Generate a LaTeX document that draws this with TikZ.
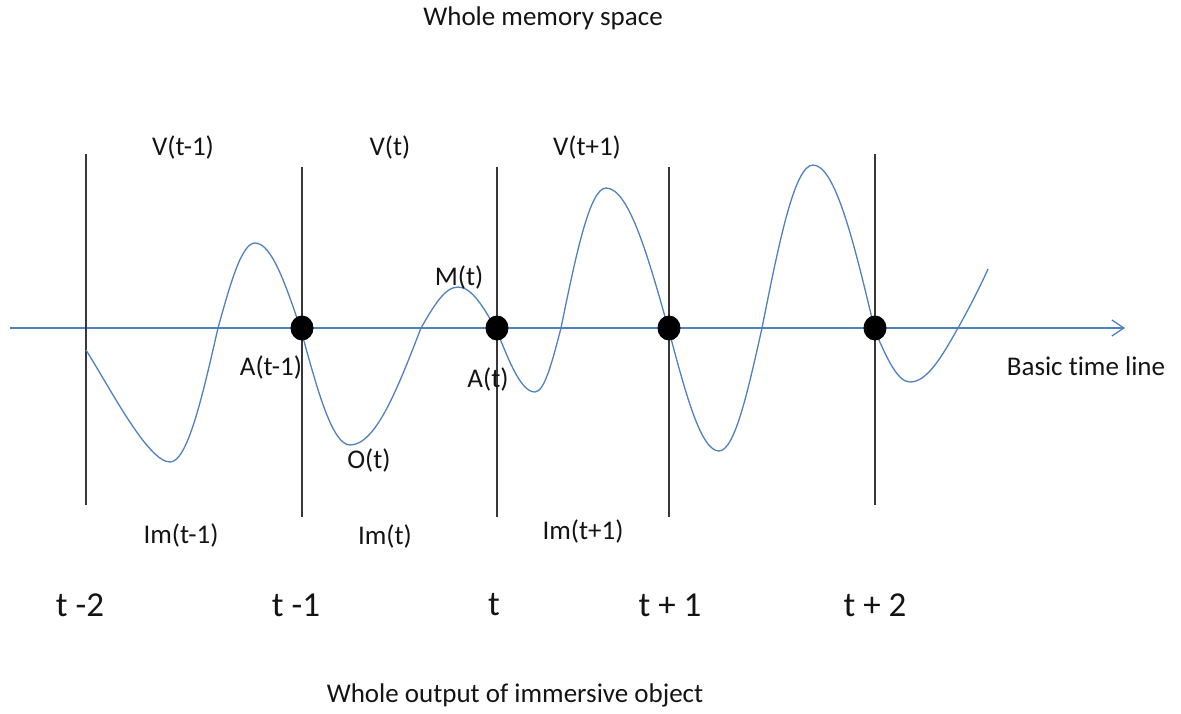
\documentclass[tikz,border=0pt]{standalone}
\usepackage{fontspec}
\setmainfont[Ligatures=NoCommon]{Carlito}
\usetikzlibrary{arrows.meta,shapes.geometric}
\definecolor{wave}{RGB}{79,129,189}
\definecolor{ink}{RGB}{20,20,20}
\begin{document}
\begin{tikzpicture}[x=1pt,y=-1pt,
  lbl/.style={inner sep=0pt,text=ink,font=\fontsize{27}{32}\selectfont},
  big/.style={inner sep=0pt,text=ink,font=\fontsize{35}{40}\selectfont},
  vline/.style={draw=ink!85,line width=1.3pt},
  dot/.style={ellipse,fill=black,inner sep=0pt,minimum width=23pt,minimum height=25pt},
  wavy/.style={draw=wave,line width=1.3pt}]
\useasboundingbox (0,0) rectangle (1181,713);
% axis
\coordinate (ax0) at (10,328);
\coordinate (ax1) at (1125,328);
\draw[wavy,-{Straight Barb[length=12pt,width=16pt,line width=1.3pt]}] (ax0) -- (ax1);
% vertical lines
\coordinate (v1t) at (86,154); \coordinate (v1b) at (86,505);
\coordinate (v2t) at (302,167); \coordinate (v2b) at (302,517);
\coordinate (v3t) at (497,167); \coordinate (v3b) at (497,517);
\coordinate (v4t) at (669,167); \coordinate (v4b) at (669,517);
\coordinate (v5t) at (875,154); \coordinate (v5b) at (875,505);
\draw[vline] (v1t) -- (v1b);
\draw[vline] (v2t) -- (v2b);
\draw[vline] (v3t) -- (v3b);
\draw[vline] (v4t) -- (v4b);
\draw[vline] (v5t) -- (v5b);
% wave
\draw[wavy] (86,350)
 .. controls (110,388) and (148,462) .. (170,462)
 .. controls (187.3,462) and (202,398.3) .. (218,328)
 .. controls (230.4,283.4) and (241.7,243) .. (255,243)
 .. controls (271.6,243) and (285.6,284.3) .. (301,330)
 .. controls (317.4,390.4) and (332.4,445) .. (350,445)
 .. controls (375.6,445) and (397.3,389.4) .. (421,328)
 .. controls (433.4,306.5) and (444.7,287) .. (458,287)
 .. controls (472,287) and (484,307.9) .. (497,331)
 .. controls (509.7,363) and (521.3,392) .. (535,392)
 .. controls (544.4,392) and (552.3,361.6) .. (561,328)
 .. controls (576,254.5) and (589.8,188) .. (606,188)
 .. controls (628.7,188) and (648,255.9) .. (669,331)
 .. controls (685.7,394) and (701,451) .. (719,451)
 .. controls (734.5,451) and (747.6,392.6) .. (762,328)
 .. controls (779,242.4) and (794.6,165) .. (813,165)
 .. controls (835.3,165) and (854.3,243.9) .. (875,331)
 .. controls (886.7,357.8) and (897.4,382) .. (910,382)
 .. controls (927.3,382) and (942,356.3) .. (958,328)
 .. controls (968,310.3) and (980,287) .. (988,269);
% dots
\node[dot] (d1) at (302,328) {};
\node[dot] (d2) at (497,328) {};
\node[dot] (d3) at (669,328) {};
\node[dot] (d4) at (875,328) {};
% labels
\node[lbl] (top) at (543,18) {Whole memory space};
\node[lbl] (v1) at (183,147) {V(t-1)};
\node[lbl] (v2) at (390,147) {V(t)};
\node[lbl] (v3) at (587,147) {V(t+1)};
\node[lbl] (mt) at (459,277) {M(t)};
\node[lbl] (at1) at (271,367) {A(t-1)};
\node[lbl] (at) at (488,379) {A(t)};
\node[lbl] (ot) at (369,460) {O(t)};
\node[lbl] (im1) at (181,535) {Im(t-1)};
\node[lbl] (im2) at (385,536) {Im(t)};
\node[lbl] (im3) at (583,531) {Im(t+1)};
\node[lbl] (btl) at (1086,366) {Basic time line};
\node[big] (t1) at (80,605) {t -2};
\node[big] (t2) at (296,605) {t -1};
\node[big] (t3) at (494,605) {t};
\node[big] (t4) at (670,605) {t + 1};
\node[big] (t5) at (875,605) {t + 2};
\node[lbl] (bot) at (515,695) {Whole output of immersive object};
\end{tikzpicture}
\end{document}
